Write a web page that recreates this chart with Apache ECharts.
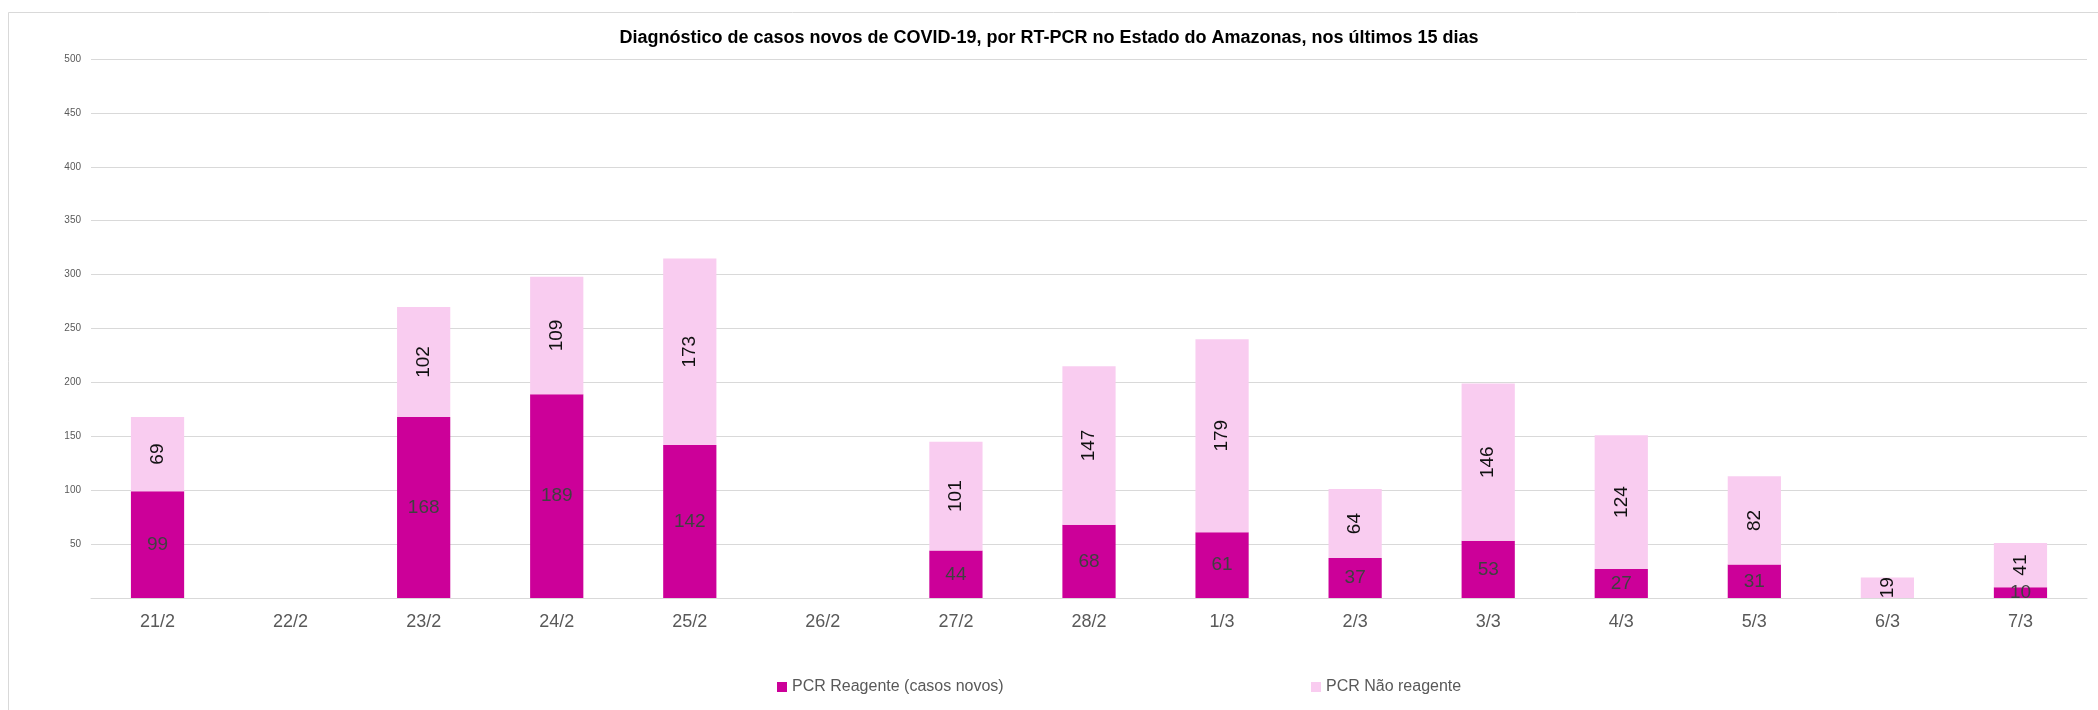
<!DOCTYPE html>
<html>
<head>
<meta charset="utf-8">
<script src="https://cdn.jsdelivr.net/npm/echarts@6/dist/echarts.min.js"></script>
<style>
  html, body { margin: 0; padding: 0; background: #fff; }
  #chart { width: 2098px; height: 710px; }
</style>
</head>
<body>
<div id="chart"></div>
<script>
// dias
const dias = ['21/2', '22/2', '23/2', '24/2', '25/2', '26/2', '27/2', '28/2', '1/3', '2/3', '3/3', '4/3', '5/3', '6/3', '7/3'];
// PCR reagente (casos novos)
const reagente = [99, null, 168, 189, 142, null, 44, 68, 61, 37, 53, 27, 31, null, 10];
// PCR nao reagente
const naoReagente = [69, null, 102, 109, 173, null, 101, 147, 179, 64, 146, 124, 82, 19, 41];
const yTicks = [0, 50, 100, 150, 200, 250, 300, 350, 400, 450, 500];

const fonte = '"Liberation Sans", Arial, sans-serif';
const chart = echarts.init(document.getElementById('chart'));

const option = {
    backgroundColor: '#fff',
    textStyle: { fontFamily: fonte },
    title: {
        text: 'Diagnóstico de casos novos de COVID-19, por RT-PCR no Estado do Amazonas, nos últimos 15 dias',
        left: 'center',
        top: 24,
        textStyle: { fontSize: 18, fontWeight: 'bold', color: '#000', fontFamily: fonte }
    },
    graphic: [
        {
            type: 'rect',
            shape: { x: 8.5, y: 12.5, width: 2200, height: 900 },
            style: { fill: 'none', stroke: '#d9d9d9', lineWidth: 1 },
            silent: true
        }
    ],
    legend: [
        {
            data: ['PCR Reagente (casos novos)'],
            left: 772,
            top: 674,
            itemWidth: 10,
            itemHeight: 10,
            itemGap: 5,
            icon: 'rect',
            textStyle: { fontSize: 16, color: '#595959' }
        },
        {
            data: ['PCR Não reagente'],
            left: 1306,
            top: 674,
            itemWidth: 10,
            itemHeight: 10,
            icon: 'rect',
            textStyle: { fontSize: 16, color: '#595959' }
        }
    ],
    grid: { left: 91, right: 11, top: 59, bottom: 112 },
    xAxis: {
        type: 'category',
        data: dias,
        axisLine: { lineStyle: { color: '#d9d9d9' } },
        axisTick: { show: false },
        axisLabel: { fontSize: 18, color: '#595959', margin: 15 }
    },
    yAxis: {
        type: 'value',
        min: yTicks[0],
        max: yTicks[yTicks.length - 1],
        interval: 50,
        axisLine: { show: false },
        axisTick: { show: false },
        splitLine: { lineStyle: { color: '#d9d9d9' } },
        axisLabel: {
            fontSize: 10,
            color: '#595959',
            margin: 10,
            formatter: function (v) { return v === 0 ? '' : v; }
        }
    },
    series: [
        {
            name: 'PCR Reagente (casos novos)',
            type: 'bar',
            stack: 'total',
            barWidth: '40%',
            data: reagente,
            itemStyle: { color: '#cc0099' },
            label: {
                show: true,
                position: 'inside',
                fontSize: 19,
                color: '#404040'
            }
        },
        {
            name: 'PCR Não reagente',
            type: 'bar',
            stack: 'total',
            barWidth: '40%',
            data: naoReagente,
            itemStyle: { color: '#f9ccf0' },
            label: {
                show: true,
                position: 'inside',
                rotate: 90,
                fontSize: 19,
                color: '#111'
            }
        }
    ]
};
chart.setOption(option);
</script>
</body>
</html>
